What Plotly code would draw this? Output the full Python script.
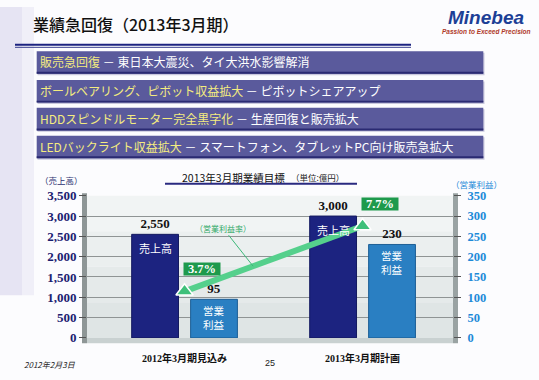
import plotly.graph_objects as go

# ---------------- data ----------------
categories = ["2012年3月期見込み", "2013年3月期計画"]
sales = [2550, 3000]            # 売上高 (億円)
op_profit = [95, 230]           # 営業利益 (億円)
op_margin = [3.7, 7.7]          # 営業利益率 (%)
left_ticks = [0, 500, 1000, 1500, 2000, 2500, 3000, 3500]
right_ticks = [0, 50, 100, 150, 200, 250, 300, 350]
banner_heads = ["販売急回復", "ボールベアリング、ピボット収益拡大",
                "HDDスピンドルモーター完全黒字化", "LEDバックライト収益拡大"]
banner_tails = ["東日本大震災、タイ大洪水影響解消", "ピボットシェアアップ",
                "生産回復と販売拡大", "スマートフォン、タブレットPC向け販売急拡大"]

W, H = 539, 380
def X(px): return px / W
def Y(py): return 1 - py / H

JP = "Noto Sans CJK JP"
SERIF = "Liberation Serif, Noto Sans CJK JP"
NAVY = "#1c2380"
BLUE = "#2a7fc2"
GREEN_LINE = "#55d08c"
GREEN_BOX = "#1e9a4c"

xs = list(range(len(categories)))

fig = go.Figure()

fig.add_trace(go.Bar(
    x=xs, y=sales, yaxis="y", offset=-0.297, width=0.263,
    marker=dict(color=NAVY, line=dict(color="#141a60", width=1)),
    text=[f"{v:,}" for v in sales], textposition="outside",
    textfont=dict(family=SERIF, size=13, color="#111", weight="bold"),
    cliponaxis=False, hoverinfo="skip", showlegend=False))

fig.add_trace(go.Bar(
    x=xs, y=op_profit, yaxis="y2", offset=0.034, width=0.263,
    marker=dict(color=BLUE, line=dict(color="#1d5f96", width=1)),
    text=[f"{v:,}" for v in op_profit], textposition="outside",
    textfont=dict(family=SERIF, size=13, color="#111", weight="bold"),
    cliponaxis=False, hoverinfo="skip", showlegend=False))

fig.add_trace(go.Scatter(
    x=xs, y=op_margin, yaxis="y3", mode="lines+markers",
    line=dict(color=GREEN_LINE, width=6),
    marker=dict(symbol="triangle-up", size=15, color="#3fc07a",
                line=dict(color="white", width=1.5)),
    cliponaxis=False, hoverinfo="skip", showlegend=False))

annotations = []
# in-bar labels
for i, v in enumerate(sales):
    annotations.append(dict(x=i - 0.1655, y=v, xref="x", yref="y", text="売上高",
                            showarrow=False, yanchor="top", yshift=-4,
                            font=dict(family=JP, size=11, color="white")))
for i, v in enumerate(op_profit):
    annotations.append(dict(x=i + 0.1655, y=v, xref="x", yref="y2", text="営業<br>利益",
                            showarrow=False, yanchor="top", yshift=-2,
                            font=dict(family=JP, size=10.5, color="white")))
# margin boxes
for i, v in enumerate(op_margin):
    annotations.append(dict(x=i, y=v, xref="x", yref="y3", text=f"{v}%",
                            showarrow=False, xshift=17, yshift=22,
                            bgcolor=GREEN_BOX, width=36, height=12, borderpad=0,
                            font=dict(family=SERIF, size=12.5, color="white", weight="bold")))
# (営業利益率) callout
px_pt = 0.385
annotations.append(dict(x=px_pt, y=op_margin[0] + px_pt * (op_margin[1] - op_margin[0]),
                        xref="x", yref="y3", text="（営業利益率）", showarrow=True,
                        arrowhead=0, arrowwidth=1, arrowcolor="#3cb878",
                        ax=-30, ay=-38, font=dict(family=JP, size=8, color="#2fa866")))

# header & texts
annotations += [
    dict(x=X(31), y=Y(18), xref="paper", yref="paper", xanchor="left", yanchor="middle",
         text="業績急回復（2013年3月期）", showarrow=False,
         font=dict(family=JP, size=16, color="#111", weight=500)),
    dict(x=X(486), y=Y(11), xref="paper", yref="paper", xanchor="center", yanchor="middle",
         text="Minebea", showarrow=False,
         font=dict(family="Liberation Sans", size=19, color="#1c3f96", weight="bold", style="italic")),
    dict(x=X(486), y=Y(26), xref="paper", yref="paper", xanchor="center", yanchor="middle",
         text="Passion to Exceed Precision", showarrow=False,
         font=dict(family="Liberation Sans", size=6.5, color="#b03a2a", weight="bold", style="italic")),
    dict(x=X(180), y=Y(177.5), xref="paper", yref="paper", xanchor="left", yanchor="middle",
         text="2013年3月期業績目標", showarrow=False,
         font=dict(family=JP, size=10.5, color="#111")),
    dict(x=X(289), y=Y(177.5), xref="paper", yref="paper", xanchor="left", yanchor="middle",
         text="（単位:億円）", showarrow=False,
         font=dict(family=JP, size=8.5, color="#222")),
    dict(x=X(61), y=Y(180), xref="paper", yref="paper", xanchor="center", yanchor="middle",
         text="（売上高）", showarrow=False,
         font=dict(family=JP, size=8.5, color="#2a2f70")),
    dict(x=X(476), y=Y(184), xref="paper", yref="paper", xanchor="center", yanchor="middle",
         text="（営業利益）", showarrow=False,
         font=dict(family=JP, size=8.5, color="#1d8ad8")),
    dict(x=X(22), y=Y(372), xref="paper", yref="paper", xanchor="left", yanchor="middle",
         text="2012年2月3日", showarrow=False,
         font=dict(family=JP, size=8, color="#222", style="italic")),
    dict(x=X(270), y=Y(371), xref="paper", yref="paper", xanchor="center", yanchor="middle",
         text="25", showarrow=False,
         font=dict(family="Liberation Sans", size=9, color="#222")),
]

# banners
shapes = []
# background tint on the left
shapes.append(dict(type="rect", xref="paper", yref="paper", x0=0, x1=X(22), y0=Y(300), y1=1,
                   fillcolor="#e6e4f3", line=dict(width=0), layer="below"))
shapes.append(dict(type="rect", xref="paper", yref="paper", x0=X(22), x1=X(34), y0=Y(300), y1=1,
                   fillcolor="#f0eff8", line=dict(width=0), layer="below"))
# header lines
shapes.append(dict(type="line", xref="paper", yref="paper", x0=X(15), x1=X(411), y0=Y(39.3), y1=Y(39.3),
                   line=dict(color="#1c2380", width=2)))
shapes.append(dict(type="line", xref="paper", yref="paper", x0=X(15), x1=X(411), y0=Y(42), y1=Y(42),
                   line=dict(color="#3a4090", width=1)))

box_tops = [46, 76, 105, 134]
for k, (hd, tl) in enumerate(zip(banner_heads, banner_tails)):
    t = box_tops[k]
    b = t + 23.5
    shapes.append(dict(type="rect", xref="paper", yref="paper", x0=X(37.5), x1=X(484.5),
                       y0=Y(b + 1.5), y1=Y(t + 1.5), fillcolor="#c9c8dd", line=dict(width=0)))
    shapes.append(dict(type="rect", xref="paper", yref="paper", x0=X(36.7), x1=X(483.3),
                       y0=Y(b), y1=Y(t), fillcolor="#5a5a9c", line=dict(width=0)))
    shapes.append(dict(type="rect", xref="paper", yref="paper", x0=X(36.7), x1=X(483.3),
                       y0=Y(b), y1=Y(b - 2), fillcolor="#2a2a72", line=dict(width=0)))
    annotations.append(dict(x=X(38), y=Y((t + b) / 2 - 0.5), xref="paper", yref="paper",
                            xanchor="left", yanchor="middle", showarrow=False,
                            text=f"<span style='color:#f4ec80'>{hd}</span> － {tl}",
                            font=dict(family=JP, size=12, color="white")))

# chart title underline
shapes.append(dict(type="line", xref="paper", yref="paper", x0=X(165), x1=X(357), y0=Y(184), y1=Y(184),
                   line=dict(color="#2a2a80", width=2)))

# 3D wall, side walls, floor
bands = ["#f1f4f4", "#ebefef", "#e5eaea", "#dfe5e5"]
top, bot = 196.5, 344.5
for j, c in enumerate(bands):
    y1 = top + (bot - top) * j / len(bands)
    y0 = top + (bot - top) * (j + 1) / len(bands)
    shapes.append(dict(type="rect", xref="paper", yref="paper", x0=X(87), x1=X(453),
                       y0=Y(y0), y1=Y(y1), fillcolor=c, line=dict(width=0), layer="below"))
shapes.append(dict(type="rect", xref="paper", yref="paper", x0=X(82), x1=X(87), y0=Y(350), y1=Y(194),
                   fillcolor="#8e9696", line=dict(width=0), layer="below"))
shapes.append(dict(type="rect", xref="paper", yref="paper", x0=X(453), x1=X(458), y0=Y(350), y1=Y(194),
                   fillcolor="#9aa3a3", line=dict(width=0), layer="below"))
shapes.append(dict(type="rect", xref="paper", yref="paper", x0=X(87), x1=X(453), y0=Y(350), y1=Y(344.5),
                   fillcolor="#c9d1d1", line=dict(width=0), layer="below"))

fig.update_layout(
    width=W, height=H, margin=dict(l=0, r=0, t=0, b=0),
    paper_bgcolor="#fcfcfe", plot_bgcolor="rgba(0,0,0,0)",
    barmode="overlay", showlegend=False,
    xaxis=dict(domain=[X(87), X(453)], range=[-0.548, 1.508], tickvals=xs, ticktext=categories,
               showgrid=False, zeroline=False, ticks="outside", ticklen=11,
               tickcolor="rgba(0,0,0,0)",
               tickfont=dict(family=SERIF, size=10, color="#111", weight="bold")),
    yaxis=dict(domain=[Y(344.5), Y(196.5)], range=[0, 3500], tickvals=left_ticks,
               tickformat=",d", showgrid=True, gridcolor="#8f9494", gridwidth=1,
               zeroline=False, ticks="outside", ticklen=7, tickcolor="#555",
               tickfont=dict(family=SERIF, size=13, color="#1b2070", weight="bold")),
    yaxis2=dict(overlaying="y", side="right", range=[0, 350], tickvals=right_ticks,
                showgrid=False, zeroline=False, ticks="outside", ticklen=7, tickcolor="#555",
                ticklabelstandoff=4,
                tickfont=dict(family=SERIF, size=12.5, color="#1d8ad8", weight="bold")),
    yaxis3=dict(overlaying="y", range=[0.847, 9.553], visible=False),
    annotations=annotations, shapes=shapes,
)

fig.write_html("out.html", config={"displayModeBar": False},
               post_script="document.body.style.margin='0';document.body.style.overflow='hidden';")
